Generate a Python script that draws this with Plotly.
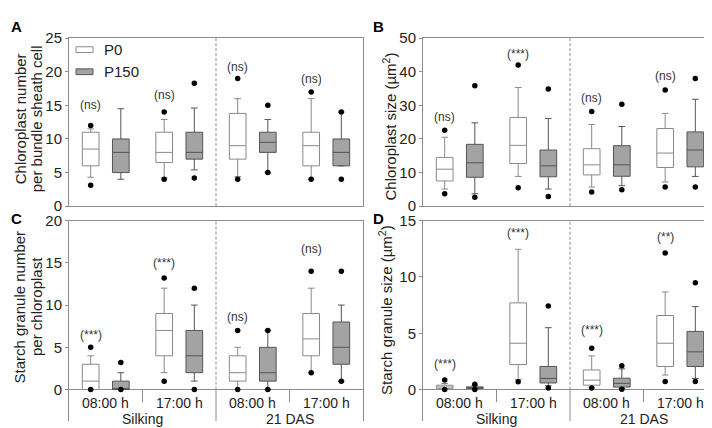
import plotly.graph_objects as go

# ---- data ----
GROUP_LABELS = ["08:00 h", "17:00 h", "08:00 h", "17:00 h"]
STAGE_LABELS = ["Silking", "21 DAS"]
SERIES = ["P0", "P150"]

# A: chloroplast number per bundle sheath cell
A_P0_LO = [4.3, 4.2, 4.4, 4.0]
A_P0_Q1 = [6.0, 6.5, 7.0, 6.0]
A_P0_MED = [8.5, 8.0, 9.0, 9.0]
A_P0_Q3 = [11.0, 11.0, 13.8, 11.0]
A_P0_HI = [11.5, 12.9, 16.0, 16.0]
A_P0_OUT = [[12.0, 3.1], [14.0, 4.0], [19.0, 4.0], [17.0, 4.0]]
A_P150_LO = [4.0, 5.4, 5.0, 6.0]
A_P150_Q1 = [5.0, 7.0, 8.0, 6.0]
A_P150_MED = [8.0, 8.0, 9.5, 8.0]
A_P150_Q3 = [10.0, 11.0, 11.0, 10.0]
A_P150_HI = [14.5, 14.6, 12.9, 14.0]
A_P150_OUT = [[], [18.3, 4.2], [15.0, 5.0], [14.0, 4.0]]
A_SIG = ["(ns)", "(ns)", "(ns)", "(ns)"]
A_SIG_Y = [15.0, 16.5, 20.7, 18.9]

# B: chloroplast size (um2)
B_P0_LO = [5.1, 8.85, 5.7, 7.2]
B_P0_Q1 = [7.5, 12.7, 9.3, 11.5]
B_P0_MED = [11.0, 18.1, 12.3, 15.8]
B_P0_Q3 = [14.5, 26.4, 17.1, 23.1]
B_P0_HI = [20.5, 35.3, 24.3, 27.6]
B_P0_OUT = [[22.6, 3.7], [42.0, 5.5], [28.2, 4.2], [34.6, 5.7]]
B_P150_LO = [3.7, 5.1, 6.1, 8.85]
B_P150_Q1 = [8.6, 8.75, 8.9, 11.7]
B_P150_MED = [12.9, 12.0, 12.3, 16.7]
B_P150_Q3 = [18.4, 16.7, 18.0, 22.1]
B_P150_HI = [24.8, 26.1, 23.7, 31.8]
B_P150_OUT = [[35.8, 2.65], [34.9, 2.9], [30.3, 4.9], [38.0, 5.7]]
B_SIG = ["(ns)", "(***)", "(ns)", "(ns)"]
B_SIG_Y = [26.6, 45.4, 32.3, 38.6]

# C: starch granule number per chloroplast
C_P0_LO = [0, 2, 0, 2]
C_P0_Q1 = [0, 4, 1, 4]
C_P0_MED = [1, 7, 2, 6]
C_P0_Q3 = [3, 9, 4, 9]
C_P0_HI = [4, 12, 5, 12]
C_P0_OUT = [[5, 0], [13.2, 1], [7, 0], [14, 2]]
C_P150_LO = [0, 1, 0, 1]
C_P150_Q1 = [0, 2, 1, 3]
C_P150_MED = [0, 4, 2, 5]
C_P150_Q3 = [1, 7, 5, 8]
C_P150_HI = [2, 10, 7, 10]
C_P150_OUT = [[3.2, 0], [12, 0], [7, 0], [14, 1]]
C_SIG = ["(***)", "(***)", "(ns)", "(ns)"]
C_SIG_Y = [6.5, 15.0, 8.6, 16.6]

# D: starch granule size (um2)
D_P0_LO = [0.05, 0.9, 0.2, 1.3]
D_P0_Q1 = [0.12, 2.23, 0.4, 2.06]
D_P0_MED = [0.25, 4.12, 0.85, 4.12]
D_P0_Q3 = [0.4, 7.7, 1.75, 6.58]
D_P0_HI = [0.55, 12.45, 3.0, 8.67]
D_P0_OUT = [[0.85, 0.02], [0.7], [3.67, 0.15], [12.12, 0.73]]
D_P150_LO = [0.05, 0.35, 0.1, 1.0]
D_P150_Q1 = [0.1, 0.6, 0.23, 2.06]
D_P150_MED = [0.18, 1.0, 0.56, 3.36]
D_P150_Q3 = [0.25, 2.06, 1.02, 5.17]
D_P150_HI = [0.35, 5.5, 1.85, 7.37]
D_P150_OUT = [[0.48, 0.02], [7.43, 0.15], [2.12, 0.05], [9.49, 0.73]]
D_SIG = ["(***)", "(***)", "(***)", "(**)"]
D_SIG_Y = [2.3, 13.9, 5.3, 13.5]

# ---- style ----
W, H = 712, 428
FONT = "Liberation Sans, Arial, sans-serif"
TEXT = "#222222"
FRAME = "#8c8c8c"
P0_LINE = "#8a8a8a"
P150_FILL = "#a3a3a3"
P150_LINE = "#555555"
OFFSET = 0.205
BOX_W = 0.227
DASH = "3px,2px"


def px_x(p):
    return p / W


def px_y(p):
    return 1 - p / H


def note(x, y, text, xref="paper", yref="paper", size=14, color=TEXT, **kw):
    d = dict(x=x, y=y, xref=xref, yref=yref, text=text, showarrow=False,
             xanchor="center", yanchor="middle", font=dict(size=size, color=color))
    d.update(kw)
    return d


fig = go.Figure()

panels = [
    ("x", "y", A_P0_LO, A_P0_Q1, A_P0_MED, A_P0_Q3, A_P0_HI, A_P0_OUT,
     A_P150_LO, A_P150_Q1, A_P150_MED, A_P150_Q3, A_P150_HI, A_P150_OUT, A_SIG, A_SIG_Y),
    ("x2", "y2", B_P0_LO, B_P0_Q1, B_P0_MED, B_P0_Q3, B_P0_HI, B_P0_OUT,
     B_P150_LO, B_P150_Q1, B_P150_MED, B_P150_Q3, B_P150_HI, B_P150_OUT, B_SIG, B_SIG_Y),
    ("x3", "y3", C_P0_LO, C_P0_Q1, C_P0_MED, C_P0_Q3, C_P0_HI, C_P0_OUT,
     C_P150_LO, C_P150_Q1, C_P150_MED, C_P150_Q3, C_P150_HI, C_P150_OUT, C_SIG, C_SIG_Y),
    ("x4", "y4", D_P0_LO, D_P0_Q1, D_P0_MED, D_P0_Q3, D_P0_HI, D_P0_OUT,
     D_P150_LO, D_P150_Q1, D_P150_MED, D_P150_Q3, D_P150_HI, D_P150_OUT, D_SIG, D_SIG_Y),
]

annotations = []
for (xa, ya, lo0, q10, med0, q30, hi0, out0,
     lo1, q11, med1, q31, hi1, out1, sig, sig_y) in panels:
    centers = [i + 0.5 for i in range(len(GROUP_LABELS))]
    pos0 = [c - OFFSET for c in centers]
    pos1 = [c + OFFSET for c in centers]
    fig.add_trace(go.Box(
        x=pos0, q1=q10, median=med0, q3=q30, lowerfence=lo0, upperfence=hi0,
        width=BOX_W, whiskerwidth=0.4, fillcolor="white",
        line=dict(color=P0_LINE, width=1), boxpoints=False,
        name=SERIES[0], xaxis=xa, yaxis=ya, showlegend=False, hoverinfo="skip",
    ))
    fig.add_trace(go.Box(
        x=pos1, q1=q11, median=med1, q3=q31, lowerfence=lo1, upperfence=hi1,
        width=BOX_W, whiskerwidth=0.4, fillcolor=P150_FILL,
        line=dict(color=P150_LINE, width=1), boxpoints=False,
        name=SERIES[1], xaxis=xa, yaxis=ya, showlegend=False, hoverinfo="skip",
    ))
    # outlier dots
    dx, dy = [], []
    for p, vals in zip(pos0, out0):
        dx += [p] * len(vals)
        dy += vals
    for p, vals in zip(pos1, out1):
        dx += [p] * len(vals)
        dy += vals
    fig.add_trace(go.Scatter(
        x=dx, y=dy, mode="markers", marker=dict(color="black", size=5.5),
        xaxis=xa, yaxis=ya, showlegend=False, hoverinfo="skip", cliponaxis=False,
    ))
    for p, t, yv in zip(pos0, sig, sig_y):
        annotations.append(note(p, yv, t, xref=xa, yref=ya, size=12, color="#333333"))

# ---- axes ----
top_dom = [px_y(197), px_y(22)]
bot_dom = [px_y(421), px_y(212)]
left_dom = [px_x(61), px_x(355)]
right_dom = [px_x(415), px_x(709)]

xbase = dict(range=[0, 4], showticklabels=False, ticks="", showgrid=False,
             zeroline=False, showline=True, linecolor=FRAME, linewidth=1)
ybase = dict(showgrid=False, zeroline=False, showline=True, mirror=True,
             linecolor=FRAME, linewidth=1, ticks="outside", ticklen=3,
             tickcolor=FRAME, tickfont=dict(size=15, color=TEXT))

fig.update_layout(
    xaxis=dict(xbase, domain=left_dom, mirror=True, anchor="y"),
    yaxis=dict(ybase, domain=top_dom, range=[0, 25], tickvals=[0, 5, 10, 15, 20, 25], anchor="x"),
    xaxis2=dict(xbase, domain=right_dom, mirror=True, anchor="y2"),
    yaxis2=dict(ybase, domain=top_dom, range=[0, 50], tickvals=[0, 10, 20, 30, 40, 50], anchor="x2"),
    xaxis3=dict(xbase, domain=left_dom, side="top", anchor="y3"),
    yaxis3=dict(ybase, domain=bot_dom, range=[-3.75, 20], tickvals=[0, 5, 10, 15, 20],
                zeroline=True, zerolinecolor=FRAME, zerolinewidth=1, anchor="x3"),
    xaxis4=dict(xbase, domain=right_dom, side="top", anchor="y4"),
    yaxis4=dict(ybase, domain=bot_dom, range=[-2.8, 15], tickvals=[0, 5, 10, 15],
                zeroline=True, zerolinecolor=FRAME, zerolinewidth=1, anchor="x4"),
)

# ---- separators and category labels ----
shapes = []
for xa, ya in [("x", "y"), ("x2", "y2")]:
    shapes.append(dict(type="line", xref=xa, yref=f"{ya} domain", x0=2, x1=2, y0=0, y1=1,
                       line=dict(color=FRAME, width=1, dash=DASH)))
for xa, ya, ymin, ymax, sep in [("x3", "y3", -3.75, 20, -1.5), ("x4", "y4", -2.8, 15, -1.1)]:
    shapes.append(dict(type="line", xref=xa, yref=ya, x0=2, x1=2, y0=0, y1=ymax,
                       line=dict(color=FRAME, width=1, dash=DASH)))
    shapes.append(dict(type="line", xref=xa, yref=ya, x0=2, x1=2, y0=ymin, y1=0,
                       line=dict(color=FRAME, width=1)))
    for xs in [1, 3]:
        shapes.append(dict(type="line", xref=xa, yref=ya, x0=xs, x1=xs, y0=sep, y1=0,
                           line=dict(color=FRAME, width=1)))
    for i, lab in enumerate(GROUP_LABELS):
        annotations.append(note(i + 0.5, px_y(402), lab, xref=xa))
    for i, lab in enumerate(STAGE_LABELS):
        annotations.append(note(2 * i + 1, px_y(419), lab, xref=xa))

# legend (drawn by hand so the keys are flat rectangles like the original)
shapes.append(dict(type="rect", xref="paper", yref="paper", x0=px_x(68), x1=px_x(85),
                   y0=px_y(37), y1=px_y(31), fillcolor="white", line=dict(color=P0_LINE, width=1)))
shapes.append(dict(type="rect", xref="paper", yref="paper", x0=px_x(68), x1=px_x(85),
                   y0=px_y(60), y1=px_y(54), fillcolor=P150_FILL, line=dict(color=P150_LINE, width=1)))
annotations.append(note(px_x(94), px_y(34), SERIES[0], size=15, xanchor="left"))
annotations.append(note(px_x(94), px_y(57), SERIES[1], size=15, xanchor="left"))

# axis titles, one annotation per line so the line spacing can be tight
titles = [
    ("Chloroplast number", 12.5, 106),
    ("per bundle sheath cell", 28.5, 106),
    ("Chloroplast size (µm<sup>2</sup>)", 381, 114),
    ("Starch granule number", 11.5, 302),
    ("per chloroplast", 28, 302),
    ("Starch granule size (µm<sup>2</sup>)", 378, 305),
]
for t, x, y in titles:
    annotations.append(note(px_x(x), px_y(y), t, size=15, textangle=-90))

# panel letters
for t, x, y in [("A", 8, 10), ("B", 370, 10), ("C", 8, 210), ("D", 370, 210)]:
    annotations.append(note(px_x(x), px_y(y), f"<b>{t}</b>", size=15, color="black"))

fig.update_layout(
    width=W, height=H, autosize=False,
    margin=dict(l=0, r=0, t=0, b=0),
    paper_bgcolor="white", plot_bgcolor="white",
    font=dict(family=FONT, color=TEXT),
    showlegend=False, boxmode="overlay",
    shapes=shapes, annotations=annotations,
)

fig.write_html("out.html")
